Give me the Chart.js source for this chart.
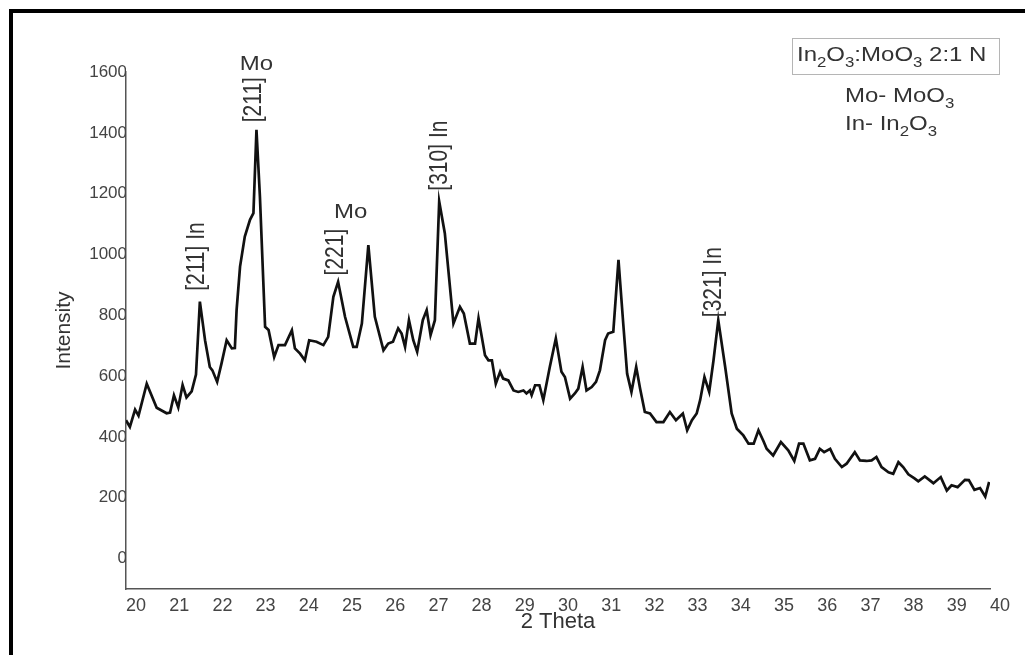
<!DOCTYPE html>
<html>
<head>
<meta charset="utf-8">
<title>XRD In2O3:MoO3 2:1 N</title>
<script src="https://cdn.jsdelivr.net/npm/chart.js@4.4.1/dist/chart.umd.min.js"></script>
<style>
  html, body { margin: 0; padding: 0; background: #fff; }
  #xrd { display: block; }
</style>
</head>
<body>
<canvas id="xrd" width="1028" height="655"></canvas>
<script>
const twoTheta = [
  20.00, 20.09, 20.21, 20.29, 20.48, 20.71, 20.94, 21.02, 21.11, 21.21,
  21.31, 21.40, 21.52, 21.62, 21.71, 21.83, 21.94, 22.00, 22.11, 22.21,
  22.33, 22.45, 22.52, 22.56, 22.64, 22.75, 22.87, 22.95, 23.02, 23.10,
  23.22, 23.30, 23.43, 23.53, 23.68, 23.84, 23.91, 24.03, 24.14, 24.24,
  24.41, 24.57, 24.68, 24.80, 24.91, 25.07, 25.26, 25.34, 25.46, 25.61,
  25.76, 25.96, 26.07, 26.18, 26.30, 26.38, 26.46, 26.55, 26.65, 26.74,
  26.87, 26.96, 27.05, 27.15, 27.25, 27.38, 27.58, 27.73, 27.82, 27.96,
  28.08, 28.16, 28.31, 28.39, 28.47, 28.56, 28.66, 28.73, 28.85, 28.97,
  29.08, 29.20, 29.27, 29.35, 29.39, 29.47, 29.57, 29.66, 29.81, 29.95,
  30.08, 30.16, 30.28, 30.39, 30.47, 30.57, 30.66, 30.78, 30.88, 30.97,
  31.09, 31.16, 31.28, 31.40, 31.51, 31.60, 31.70, 31.81, 31.90, 32.01,
  32.13, 32.28, 32.44, 32.59, 32.73, 32.89, 32.99, 33.10, 33.21, 33.29,
  33.39, 33.50, 33.60, 33.71, 33.87, 34.02, 34.14, 34.29, 34.41, 34.53,
  34.64, 34.76, 34.83, 34.98, 35.16, 35.33, 35.47, 35.58, 35.68, 35.83,
  35.95, 36.06, 36.16, 36.30, 36.41, 36.57, 36.68, 36.87, 36.99, 37.14,
  37.26, 37.37, 37.49, 37.65, 37.76, 37.88, 37.99, 38.11, 38.26, 38.34,
  38.49, 38.69, 38.86, 39.00, 39.11, 39.25, 39.42, 39.51, 39.64, 39.77,
  39.89, 39.98
];
const intensity = [
  455, 433, 490, 470, 575, 496, 478, 480, 537, 497,
  571, 530, 550, 605, 845, 718, 630, 619, 581, 641,
  718, 691, 692, 817, 960, 1059, 1114, 1136, 1410, 1190,
  762, 752, 663, 702, 702, 751, 691, 674, 652, 718,
  713, 702, 729, 861, 910, 795, 696, 696, 773, 1031,
  795, 685, 707, 713, 757, 740, 696, 784, 718, 680,
  784, 817, 735, 784, 1174, 1070, 773, 828, 806, 707,
  707, 790, 669, 652, 652, 575, 614, 592, 586, 553,
  548, 553, 543, 553, 537, 570, 570, 521, 630, 724,
  614, 597, 526, 543, 559, 630, 553, 564, 581, 619,
  718, 740, 746, 982, 773, 608, 548, 630, 559, 482,
  477, 449, 449, 482, 455, 477, 422, 455, 477, 521,
  597, 548, 652, 784, 630, 477, 427, 405, 378, 378,
  422, 385, 361, 339, 383, 356, 321, 378, 378, 323,
  328, 361, 350, 361, 328, 301, 312, 350, 323, 321,
  323, 334, 301, 284, 279, 317, 301, 277, 263, 254,
  270, 248, 268, 224, 241, 235, 259, 258, 226, 232,
  204, 252
];
const xTicks = [20, 21, 22, 23, 24, 25, 26, 27, 28, 29, 30, 31, 32, 33, 34, 35, 36, 37, 38, 39, 40];
const yTicks = [0, 200, 400, 600, 800, 1000, 1200, 1400, 1600];

const FONT = '"Liberation Sans", Arial, sans-serif';
const TEXT = '#333';
const STRETCH = 1.2; // the original figure is a bit wider than tall

// peak tags, placed in data units
const peakTags = [
  { x: 21.65, y: 993,  text: '[211] In', rot: true },
  { x: 22.96, y: 1509, text: '[211]',    rot: true },
  { x: 23.02, y: 1626, text: 'Mo',       rot: false },
  { x: 24.86, y: 1008, text: '[221]',    rot: true },
  { x: 25.20, y: 1138, text: 'Mo',       rot: false },
  { x: 27.27, y: 1325, text: '[310] In', rot: true },
  { x: 33.61, y: 909,  text: '[321] In', rot: true }
];

function wideText(ctx, text, x, y, size, rot) {
  ctx.save();
  ctx.translate(x, y);
  ctx.scale(STRETCH, 1);
  if (rot) ctx.rotate(-Math.PI / 2);
  ctx.font = size + 'px ' + FONT;
  ctx.fillStyle = TEXT;
  ctx.textAlign = 'center';
  ctx.textBaseline = 'middle';
  ctx.fillText(text, 0, 0);
  ctx.restore();
}

// text with subscripts: parts = [[str, isSub], ...], left aligned on baseline
function chemText(ctx, parts, x, y, size) {
  ctx.save();
  ctx.translate(x, y);
  ctx.scale(STRETCH, 1);
  ctx.fillStyle = TEXT;
  ctx.textAlign = 'left';
  ctx.textBaseline = 'alphabetic';
  let cx = 0;
  parts.forEach(([s, sub]) => {
    const fs = sub ? Math.round(size * 0.72) : size;
    ctx.font = fs + 'px ' + FONT;
    ctx.fillText(s, cx, sub ? size * 0.28 : 0);
    cx += ctx.measureText(s).width;
  });
  ctx.restore();
}

const decorPlugin = {
  id: 'decor',
  beforeDraw(chart) {
    const ctx = chart.ctx;
    ctx.save();
    ctx.fillStyle = '#fff';
    ctx.fillRect(0, 0, chart.width, chart.height);
    // black frame (top and left)
    ctx.fillStyle = '#000';
    ctx.fillRect(9, 9, 1016, 4);
    ctx.fillRect(9, 9, 4, chart.height - 9);
    ctx.restore();
  },
  afterDraw(chart) {
    const ctx = chart.ctx;
    const xs = chart.scales.x, ys = chart.scales.y;
    peakTags.forEach(t => {
      wideText(ctx, t.text, xs.getPixelForValue(t.x), ys.getPixelForValue(t.y), t.rot ? 21 : 20, t.rot);
    });

    // sample box
    ctx.save();
    ctx.strokeStyle = '#b5b5b5';
    ctx.lineWidth = 1;
    ctx.strokeRect(792.5, 38.5, 207, 36);
    ctx.restore();
    chemText(ctx, [['In', 0], ['2', 1], ['O', 0], ['3', 1], [':MoO', 0], ['3', 1], [' 2:1 N', 0]], 797, 61, 20);
    chemText(ctx, [['Mo- MoO', 0], ['3', 1]], 845, 102, 20);
    chemText(ctx, [['In- In', 0], ['2', 1], ['O', 0], ['3', 1]], 845, 130, 20);
  }
};

new Chart(document.getElementById('xrd'), {
  type: 'line',
  data: {
    datasets: [{
      label: 'In2O3:MoO3 2:1 N',
      data: twoTheta.map((t, i) => ({ x: t, y: intensity[i] })),
      borderColor: '#111',
      borderWidth: 2.7,
      pointRadius: 0,
      tension: 0,
      fill: false
    }]
  },
  options: {
    responsive: false,
    animation: false,
    devicePixelRatio: 1,
    layout: { padding: { left: 14, right: 38, top: 72, bottom: 0 } },
    plugins: {
      legend: { display: false },
      tooltip: { enabled: false }
    },
    scales: {
      x: {
        type: 'linear',
        min: 20,
        max: 40,
        afterBuildTicks: s => { s.ticks = xTicks.map(v => ({ value: v })); },
        afterFit: s => { s.height = 66; },
        grid: { display: false, drawTicks: false },
        border: { display: true, color: '#555', width: 1.5 },
        ticks: { align: 'start', padding: 6, color: '#444', autoSkip: false, maxRotation: 0, font: { family: FONT, size: 18 }, callback: v => String(v) },
        title: { display: true, text: '2 Theta', color: TEXT, font: { family: FONT, size: 22 }, padding: { top: 0, bottom: 20 } }
      },
      y: {
        min: -100,
        max: 1600,
        afterBuildTicks: s => { s.ticks = yTicks.map(v => ({ value: v })); },
        afterFit: s => { s.width = 112; },
        grid: { display: false, drawTicks: false },
        border: { display: true, color: '#555', width: 1.5 },
        ticks: { padding: -1, color: '#444', font: { family: FONT, size: 17 }, callback: v => String(v) },
        title: { display: true, text: 'Intensity', color: TEXT, font: { family: FONT, size: 21 }, padding: { top: 38, bottom: 0 } }
      }
    }
  },
  plugins: [decorPlugin]
});
</script>
</body>
</html>
